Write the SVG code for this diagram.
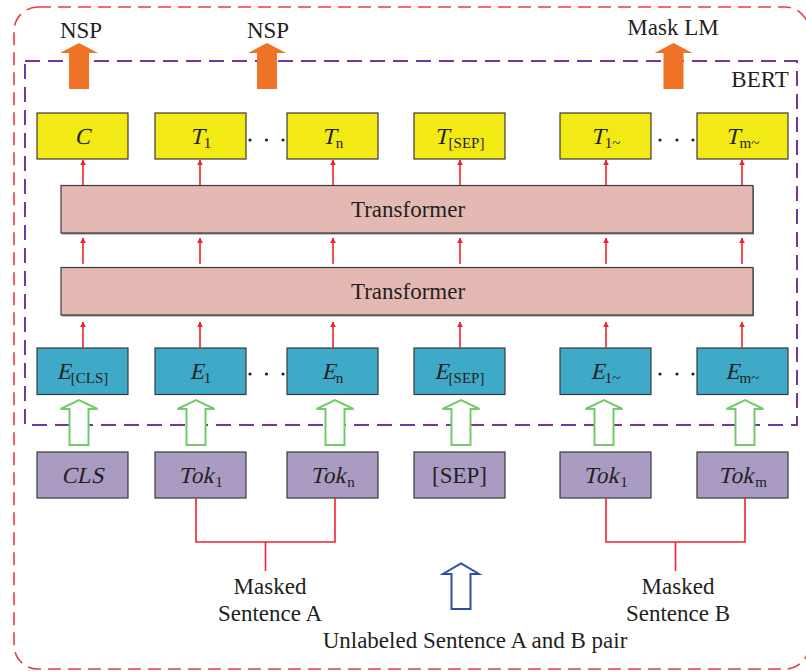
<svg xmlns="http://www.w3.org/2000/svg" width="806" height="671" viewBox="0 0 806 671">
  <defs>
    <style>
      text { font-family: "Liberation Serif", "Times New Roman", serif; font-size: 23px; fill: #231f20; text-anchor: middle; }
      .it { text-anchor: start; }
      .itc { text-anchor: middle; }
      .sub { font-size: 15px; text-anchor: start; }
      .box { stroke: #3a3a3a; stroke-width: 1.2; }
      .out { fill: #f2e915; }
      .emb { fill: #3eaac7; }
      .tok { fill: #a99bc1; }
      .tf  { fill: #e5b9b3; }
      .shadow { fill: #8a8a8a; }
      .red { stroke: #f0232d; stroke-width: 1.6; fill: none; }
      .green { fill: #ffffff; stroke: #74c96d; stroke-width: 2; }
      .blue { fill: #ffffff; stroke: #2f4fa6; stroke-width: 2; }
      .orange { fill: #ee7326; }
      .dot { fill: #231f20; }
    </style>
    <marker id="ah" viewBox="0 0 10 10" refX="9" refY="5" markerWidth="6" markerHeight="7" markerUnits="userSpaceOnUse" orient="auto">
      <path d="M0,0 L10,5 L0,10 Z" fill="#f0232d"/>
    </marker>
  </defs>

  <!-- outer frame -->
  <rect x="14" y="7" width="795" height="662" rx="24" fill="none" stroke="#ee3b45" stroke-width="1.6" stroke-dasharray="13 7"/>
  <!-- BERT frame -->
  <rect x="25" y="61" width="772" height="364" fill="none" stroke="#7535a0" stroke-width="2" stroke-dasharray="15 8"/>
  <text x="760" y="87">BERT</text>

  <!-- task heads -->
  <g id="head-nsp1">
    <path class="orange" d="M69,89 V53 H60 L79,43 L98,53 H89 V89 Z"/>
    <text x="81" y="38">NSP</text>
  </g>
  <g id="head-nsp2">
    <path class="orange" d="M257,89 V53 H248 L267,43 L286,53 H277 V89 Z"/>
    <text x="268" y="38">NSP</text>
  </g>
  <g id="head-mlm">
    <path class="orange" d="M663.5,89 V53 H654.5 L673.5,43 L692.5,53 H683.5 V89 Z"/>
    <text x="673" y="35">Mask LM</text>
  </g>

  <!-- output row (italic symbols slanted, subscripts upright) -->
  <g id="out-c"><rect class="box out" x="37" y="113" width="91" height="46"/><text class="itc" transform="translate(82.5 144) skewX(-13)">C</text></g>
  <g id="out-t1"><rect class="box out" x="155" y="113" width="91" height="46"/><text class="it" transform="translate(189.7 144) skewX(-13)">T</text><text class="sub" x="203.8" y="147.5">1</text></g>
  <g id="out-tn"><rect class="box out" x="287" y="113" width="91" height="46"/><text class="it" transform="translate(321.7 144) skewX(-13)">T</text><text class="sub" x="335.8" y="147.5">n</text></g>
  <g id="out-tsep"><rect class="box out" x="414" y="113" width="91" height="46"/><text class="it" transform="translate(434.6 144) skewX(-13)">T</text><text class="sub" x="448.6" y="147.5">[SEP]</text></g>
  <g id="out-t1b"><rect class="box out" x="560" y="113" width="91" height="46"/><text class="it" transform="translate(590.7 144) skewX(-13)">T</text><text class="sub" x="604.7" y="147.5">1~</text></g>
  <g id="out-tmb"><rect class="box out" x="697" y="113" width="91" height="46"/><text class="it" transform="translate(725.6 144) skewX(-13)">T</text><text class="sub" x="739.6" y="147.5">m~</text></g>

  <!-- transformer layers -->
  <g id="transformer-2">
    <rect class="shadow" x="62" y="186.5" width="692" height="48"/>
    <rect class="box tf" x="61" y="185.5" width="692" height="47.5"/>
    <text x="408" y="217">Transformer</text>
  </g>
  <g id="transformer-1">
    <rect class="shadow" x="62" y="268.5" width="692" height="48"/>
    <rect class="box tf" x="61" y="267.5" width="692" height="47.5"/>
    <text x="408" y="299">Transformer</text>
  </g>

  <!-- embedding row -->
  <g id="emb-cls"><rect class="box emb" x="37" y="348" width="91" height="46.5"/><text class="it" transform="translate(56.7 379) skewX(-13)">E</text><text class="sub" x="70.8" y="382.5">[CLS]</text></g>
  <g id="emb-1"><rect class="box emb" x="155" y="348" width="91" height="46.5"/><text class="it" transform="translate(189.7 379) skewX(-13)">E</text><text class="sub" x="203.8" y="382.5">1</text></g>
  <g id="emb-n"><rect class="box emb" x="287" y="348" width="91" height="46.5"/><text class="it" transform="translate(321.7 379) skewX(-13)">E</text><text class="sub" x="335.8" y="382.5">n</text></g>
  <g id="emb-sep"><rect class="box emb" x="414" y="348" width="91" height="46.5"/><text class="it" transform="translate(434.6 379) skewX(-13)">E</text><text class="sub" x="448.6" y="382.5">[SEP]</text></g>
  <g id="emb-1b"><rect class="box emb" x="560" y="348" width="91" height="46.5"/><text class="it" transform="translate(590.7 379) skewX(-13)">E</text><text class="sub" x="604.7" y="382.5">1~</text></g>
  <g id="emb-mb"><rect class="box emb" x="697" y="348" width="91" height="46.5"/><text class="it" transform="translate(725.6 379) skewX(-13)">E</text><text class="sub" x="739.6" y="382.5">m~</text></g>

  <!-- token row -->
  <g id="tok-cls"><rect class="box tok" x="37" y="452" width="91" height="46"/><text class="itc" transform="translate(82.5 483) skewX(-13)">CLS</text></g>
  <g id="tok-a1"><rect class="box tok" x="155" y="452" width="91" height="46"/><text class="it" transform="translate(178.2 483) skewX(-13)">Tok</text><text class="sub" x="215.3" y="486.5">1</text></g>
  <g id="tok-an"><rect class="box tok" x="287" y="452" width="91" height="46"/><text class="it" transform="translate(310.2 483) skewX(-13)">Tok</text><text class="sub" x="347.3" y="486.5">n</text></g>
  <g id="tok-sep"><rect class="box tok" x="414" y="452" width="91" height="46"/><text x="459.5" y="483">[SEP]</text></g>
  <g id="tok-b1"><rect class="box tok" x="560" y="452" width="91" height="46"/><text class="it" transform="translate(583.2 483) skewX(-13)">Tok</text><text class="sub" x="620.3" y="486.5">1</text></g>
  <g id="tok-bm"><rect class="box tok" x="697" y="452" width="91" height="46"/><text class="it" transform="translate(718.1 483) skewX(-13)">Tok</text><text class="sub" x="755.2" y="486.5">m</text></g>

  <!-- ellipsis dots -->
  <g id="dots">
    <circle class="dot" cx="250" cy="140" r="1.6"/><circle class="dot" cx="266.5" cy="140" r="1.6"/><circle class="dot" cx="283" cy="140" r="1.6"/>
    <circle class="dot" cx="660" cy="140" r="1.6"/><circle class="dot" cx="677" cy="140" r="1.6"/><circle class="dot" cx="693" cy="140" r="1.6"/>
    <circle class="dot" cx="250" cy="374" r="1.6"/><circle class="dot" cx="266.5" cy="374" r="1.6"/><circle class="dot" cx="283" cy="374" r="1.6"/>
    <circle class="dot" cx="660" cy="374" r="1.6"/><circle class="dot" cx="677" cy="374" r="1.6"/><circle class="dot" cx="693" cy="374" r="1.6"/>
  </g>

  <!-- connectors -->
  <g id="connectors">
    <!-- transformer to outputs -->
    <path class="red" marker-end="url(#ah)" d="M83,185 V160"/>
    <path class="red" marker-end="url(#ah)" d="M200,185 V160"/>
    <path class="red" marker-end="url(#ah)" d="M333,185 V160"/>
    <path class="red" marker-end="url(#ah)" d="M460,185 V160"/>
    <path class="red" marker-end="url(#ah)" d="M606,185 V160"/>
    <path class="red" marker-end="url(#ah)" d="M742,185 V160"/>
    <!-- between transformer layers -->
    <path class="red" marker-end="url(#ah)" d="M83,264 V238"/>
    <path class="red" marker-end="url(#ah)" d="M200,264 V238"/>
    <path class="red" marker-end="url(#ah)" d="M333,264 V238"/>
    <path class="red" marker-end="url(#ah)" d="M460,264 V238"/>
    <path class="red" marker-end="url(#ah)" d="M606,264 V238"/>
    <path class="red" marker-end="url(#ah)" d="M742,264 V238"/>
    <!-- embeddings to transformer -->
    <path class="red" marker-end="url(#ah)" d="M83,348 V322"/>
    <path class="red" marker-end="url(#ah)" d="M200,348 V322"/>
    <path class="red" marker-end="url(#ah)" d="M333,348 V322"/>
    <path class="red" marker-end="url(#ah)" d="M460,348 V322"/>
    <path class="red" marker-end="url(#ah)" d="M606,348 V322"/>
    <path class="red" marker-end="url(#ah)" d="M742,348 V322"/>
    <!-- tokens to embeddings -->
    <path class="green" d="M69.5,445 V409 H60.5 L79,400 L97.5,409 H88.5 V445 Z"/>
    <path class="green" d="M186.5,445 V409 H177.5 L196,400 L214.5,409 H205.5 V445 Z"/>
    <path class="green" d="M325.5,445 V409 H316.5 L335,400 L353.5,409 H344.5 V445 Z"/>
    <path class="green" d="M451.5,445 V409 H442.5 L461,400 L479.5,409 H470.5 V445 Z"/>
    <path class="green" d="M594.5,445 V409 H585.5 L604,400 L622.5,409 H613.5 V445 Z"/>
    <path class="green" d="M735.5,445 V409 H726.5 L745,400 L763.5,409 H754.5 V445 Z"/>
    <!-- sentence brackets -->
    <path class="red" d="M196,498 V542 H335 V498 M265.5,542 V571"/>
    <path class="red" d="M606,498 V542 H745 V498 M675.5,542 V571"/>
    <!-- input pair arrow -->
    <path class="blue" d="M451.5,609 V574 H443 L461,563.5 L479,574 H470.5 V609 Z"/>
  </g>

  <!-- input labels -->
  <text x="270" y="594">Masked</text>
  <text x="270" y="621">Sentence A</text>
  <text x="678" y="594">Masked</text>
  <text x="678" y="621">Sentence B</text>
  <text x="475" y="648">Unlabeled Sentence A and B pair</text>
</svg>
